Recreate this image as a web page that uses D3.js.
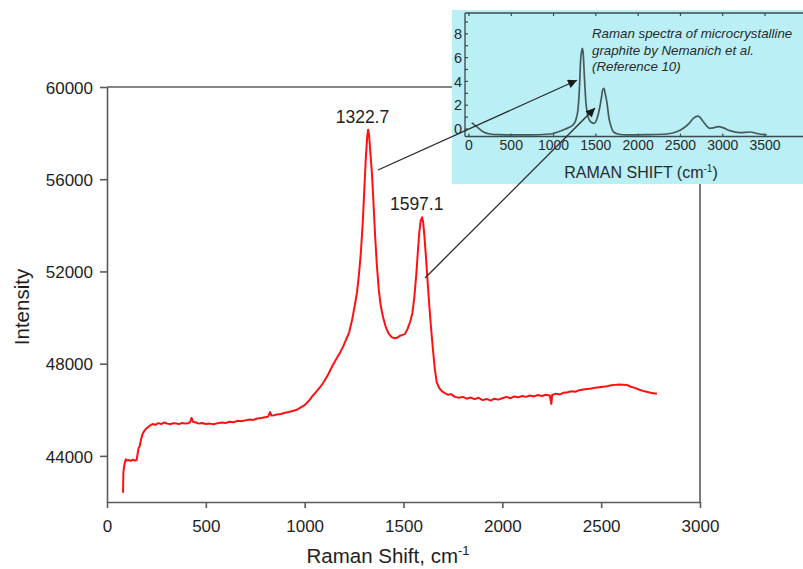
<!DOCTYPE html>
<html><head><meta charset="utf-8">
<script src="https://cdn.jsdelivr.net/npm/d3@7"></script>
<style>
html,body{margin:0;padding:0;background:#fff;}
svg{display:block;font-family:"Liberation Sans",Arial,Helvetica,sans-serif;}
</style></head>
<body>
<svg id="chart" width="803" height="569"></svg>
<script>
// ---- main spectrum ----
const shiftCm = [81,83,86,90,95,100,110,120,130,140,150,155,160,165,172,180,190,200,215,230,245,260,275,290,305,320,335,350,365,380,395,410,420,428,435,450,465,480,500,520,540,560,580,600,620,640,660,680,700,720,740,760,780,800,815,825,832,845,860,880,900,920,940,960,980,1000,1020,1040,1060,1080,1100,1120,1140,1160,1180,1195,1210,1225,1240,1255,1265,1275,1285,1295,1303,1310,1316,1321,1326,1332,1340,1348,1356,1365,1375,1385,1397,1410,1425,1440,1455,1467,1480,1495,1507,1520,1535,1545,1555,1565,1573,1580,1587,1594,1600,1606,1613,1620,1629,1638,1648,1658,1668,1680,1695,1710,1725,1740,1760,1780,1800,1820,1840,1860,1880,1900,1920,1940,1960,1980,2000,2020,2040,2060,2080,2100,2120,2140,2160,2180,2200,2220,2240,2248,2252,2270,2290,2310,2330,2350,2370,2390,2410,2430,2450,2470,2490,2510,2530,2550,2570,2590,2610,2630,2650,2670,2690,2710,2730,2750,2765,2782];
const intensity = [42400,43300,43500,43700,43850,43800,43820,43780,43830,43800,43820,44100,44350,44400,44700,44950,45100,45200,45300,45380,45350,45420,45380,45450,45400,45370,45420,45400,45380,45430,45400,45420,45460,45650,45480,45450,45400,45430,45380,45400,45370,45420,45450,45430,45480,45460,45520,45500,45540,45580,45560,45620,45640,45680,45700,45900,45750,45760,45800,45820,45870,45900,45950,46000,46100,46200,46380,46600,46800,47000,47250,47550,47900,48200,48500,48750,49050,49350,49900,50600,51100,51900,52900,54300,55800,57000,57800,58150,57900,57200,56300,55000,53600,52300,51200,50500,50000,49600,49300,49150,49100,49120,49200,49250,49280,49500,49850,50200,50900,51900,52900,53700,54200,54350,54100,53500,52700,51800,50700,49700,48700,47800,47200,46950,46800,46720,46650,46680,46560,46520,46560,46480,46530,46460,46520,46420,46470,46400,46480,46440,46500,46560,46500,46580,46540,46600,46560,46620,46580,46640,46600,46650,46620,46250,46640,46700,46660,46740,46760,46800,46780,46850,46880,46900,46920,46960,46980,47000,47020,47060,47080,47100,47090,47080,47000,46950,46880,46820,46780,46740,46720,46700];
const xTicks = [0,500,1000,1500,2000,2500,3000];
const yTicks = [44000,48000,52000,56000,60000];
const peakShift = [1322.7, 1597.1];
const peakIntensity = [58150, 54350];
const peakText = ["1322.7", "1597.1"];

// ---- inset (Nemanich et al.) ----
const insetShift = [32,90,165,250,366,500,700,957,1111,1180,1229,1260,1288,1305,1320,1333,1340,1350,1363,1383,1400,1422,1450,1477,1510,1540,1565,1580,1596,1610,1627,1659,1685,1706,1760,1864,2100,2337,2450,2534,2600,2652,2711,2770,2849,2900,2950,3000,3085,3203,3321,3420,3519];
const insetIntensity = [0.53,0.2,-0.23,-0.42,-0.48,-0.5,-0.5,-0.42,-0.08,0.12,0.34,0.7,1.6,3.3,5.8,6.6,6.78,6.4,4.6,2.2,1.3,0.76,0.55,0.48,0.8,1.6,2.6,3.28,3.42,3.0,2.4,0.76,0.1,-0.22,-0.42,-0.5,-0.48,-0.42,-0.25,0.06,0.45,0.9,1.09,0.61,0.06,0.12,0.2,0.12,-0.14,-0.31,-0.25,-0.4,-0.5];
const insetXTicks = [0,500,1000,1500,2000,2500,3000,3500];
const insetYTicks = [0,2,4,6,8];
const insetTitle = ["Raman spectra of microcrystalline","graphite by Nemanich et al.","(Reference 10)"];
// arrows: from main-spectrum point to inset point
const arrowFromShift = [1371, 1609];
const arrowFromIntensity = [56400, 51716];
const arrowToShift = [1277, 1490];
const arrowToIntensity = [4.1, 1.76];

const svg = d3.select("#chart");
const axisCol = "#5a5a5a", textCol = "#1e1e1e";

// main scales
const x = d3.scaleLinear().domain([0,3000]).range([107,700]);
const y = d3.scaleLinear().domain([42000,60000]).range([502,87]);

// frame top & right
svg.append("line").attr("x1",x(0)).attr("x2",x(3000)).attr("y1",y(60000)).attr("y2",y(60000))
  .attr("stroke",axisCol).attr("stroke-width",1.6);
svg.append("line").attr("x1",x(3000)).attr("x2",x(3000)).attr("y1",y(60000)).attr("y2",y(42000))
  .attr("stroke",axisCol).attr("stroke-width",1.6);

// y axis
const gy = svg.append("g").attr("transform",`translate(${x(0)},0)`)
  .call(d3.axisLeft(y).tickValues(yTicks).tickSize(7).tickSizeOuter(0).tickFormat(d3.format("d")));
gy.select(".domain").attr("stroke",axisCol).attr("stroke-width",1.6);
gy.selectAll(".tick line").attr("stroke",axisCol).attr("stroke-width",1.6);
gy.selectAll(".tick text").attr("x",-14).attr("dy","0.36em").attr("fill",textCol)
  .style("font-size","17px").style("font-family","Liberation Sans, Arial, sans-serif");

// x axis
const gx = svg.append("g").attr("transform",`translate(0,${y(42000)})`)
  .call(d3.axisBottom(x).tickValues(xTicks).tickSize(6).tickSizeOuter(0).tickFormat(d3.format("d")));
gx.select(".domain").attr("stroke",axisCol).attr("stroke-width",1.6);
gx.selectAll(".tick line").attr("stroke",axisCol).attr("stroke-width",1.6);
gx.selectAll(".tick text").attr("y",30).attr("dy","0").attr("fill",textCol)
  .style("font-size","17px").style("font-family","Liberation Sans, Arial, sans-serif");

// axis titles
const xt = svg.append("text").attr("x",388).attr("y",563).attr("text-anchor","middle")
  .attr("fill",textCol).style("font-size","20.5px");
xt.append("tspan").text("Raman Shift, cm");
xt.append("tspan").attr("dy",-8).style("font-size","13px").text("-1");
svg.append("text").attr("transform","translate(29,307) rotate(-90)").attr("text-anchor","middle")
  .attr("fill",textCol).style("font-size","20.5px").text("Intensity");

// main curve
const mainData = shiftCm.map((s,i)=>[s,intensity[i]]);
svg.append("path").datum(mainData)
  .attr("d", d3.line().x(d=>x(d[0])).y(d=>y(d[1])))
  .attr("fill","none").attr("stroke","#ff1010").attr("stroke-width",2).attr("stroke-linejoin","round");

// peak labels
svg.selectAll("text.peak").data(peakShift).join("text").attr("class","peak")
  .attr("x",(d)=>x(d)-6).attr("y",(d,i)=>y(peakIntensity[i])-7)
  .attr("text-anchor","middle").attr("fill",textCol).style("font-size","17.5px")
  .text((d,i)=>peakText[i]);

// ---- inset ----
const ix = d3.scaleLinear().domain([-47,3949]).range([465,803]);
const iy = d3.scaleLinear().domain([-0.63,9.75]).range([136.5,13]);
svg.append("rect").attr("x",452).attr("y",10).attr("width",351).attr("height",174).attr("fill","#b9eff5");
const icol = "#3a4a4e";
// inset frame lines
svg.append("line").attr("x1",ix(-47)).attr("x2",ix(3949)).attr("y1",iy(9.75)).attr("y2",iy(9.75)).attr("stroke",icol).attr("stroke-width",1.3);
svg.append("line").attr("x1",ix(-47)).attr("x2",ix(3949)).attr("y1",iy(-0.63)).attr("y2",iy(-0.63)).attr("stroke",icol).attr("stroke-width",1.3);
svg.append("line").attr("x1",ix(-47)).attr("x2",ix(-47)).attr("y1",iy(9.75)).attr("y2",iy(-0.63)).attr("stroke",icol).attr("stroke-width",1.3);
// inset ticks
svg.selectAll("line.iyt").data(d3.range(0,10)).join("line").attr("class","iyt")
  .attr("x1",ix(-47)).attr("x2",ix(-47)+3).attr("y1",d=>iy(d)).attr("y2",d=>iy(d)).attr("stroke",icol).attr("stroke-width",1.2);
svg.selectAll("line.ixt").data(insetXTicks).join("line").attr("class","ixt")
  .attr("x1",d=>ix(d)).attr("x2",d=>ix(d)).attr("y1",iy(-0.63)).attr("y2",iy(-0.63)-3).attr("stroke",icol).attr("stroke-width",1.2);
svg.selectAll("line.ixt2").data(insetXTicks).join("line").attr("class","ixt2")
  .attr("x1",d=>ix(d)).attr("x2",d=>ix(d)).attr("y1",iy(9.75)).attr("y2",iy(9.75)+3).attr("stroke",icol).attr("stroke-width",1.2);
svg.selectAll("text.iyl").data(insetYTicks).join("text").attr("class","iyl")
  .attr("x",462).attr("y",d=>iy(d)).attr("dy","0.36em").attr("text-anchor","end")
  .attr("fill","#2a2a2a").style("font-size","14.5px").text(d=>d);
svg.selectAll("text.ixl").data(insetXTicks).join("text").attr("class","ixl")
  .attr("x",d=>ix(d)).attr("y",150).attr("text-anchor","middle")
  .attr("fill","#2a2a2a").style("font-size","14px").text(d=>d);
const it = svg.append("text").attr("x",641).attr("y",178).attr("text-anchor","middle")
  .attr("fill","#2a2a2a").style("font-size","16px");
it.append("tspan").text("RAMAN SHIFT (cm");
it.append("tspan").attr("dy",-6).style("font-size","10px").text("-1");
it.append("tspan").attr("dy",6).text(")");
svg.selectAll("text.ititle").data(insetTitle).join("text").attr("class","ititle")
  .attr("x",592).attr("y",(d,i)=>38+i*16.5).attr("fill","#2a2a2a")
  .style("font-size","13.3px").style("font-style","italic").text(d=>d);
const insetData = insetShift.map((s,i)=>[s,insetIntensity[i]]);
svg.append("path").datum(insetData)
  .attr("d", d3.line().curve(d3.curveMonotoneX).x(d=>ix(d[0])).y(d=>iy(d[1])))
  .attr("fill","none").attr("stroke","#475a5a").attr("stroke-width",1.7);

// arrows
svg.append("defs").append("marker").attr("id","ah").attr("markerUnits","userSpaceOnUse")
  .attr("viewBox","0 0 10 10").attr("refX",10).attr("refY",5).attr("markerWidth",11).attr("markerHeight",9)
  .attr("orient","auto").append("path").attr("d","M0,0 L10,5 L0,10 Z").attr("fill","#1a1a1a");
svg.selectAll("line.arrow").data(arrowFromShift).join("line").attr("class","arrow")
  .attr("x1",d=>x(d)).attr("y1",(d,i)=>y(arrowFromIntensity[i]))
  .attr("x2",(d,i)=>ix(arrowToShift[i])).attr("y2",(d,i)=>iy(arrowToIntensity[i]))
  .attr("stroke","#2a2a2a").attr("stroke-width",1.3).attr("marker-end","url(#ah)");
</script>
</body></html>
